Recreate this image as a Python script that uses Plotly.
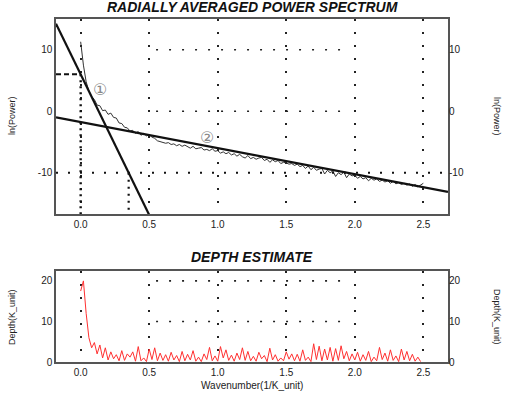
import numpy as np
import plotly.graph_objects as go

# ---------------- data ----------------
x_ticks = [0.0, 0.5, 1.0, 1.5, 2.0, 2.5]
x_tick_text = ["0.0", "0.5", "1.0", "1.5", "2.0", "2.5"]
power_ticks = [10, 0, -10]
power_tick_text = ["10", "0", "-10"]
depth_ticks = [0, 10, 20]

spec_step = 0.02
spec_power = [11.3, 7.5, 4.8, 3.3, 2.4, 1.9, 1.0, 0.9, 0.1, 0.2,
              -0.5, -0.3, -1.0, -1.1, -1.9, -2.0, -2.6, -2.7, -3.2, -3.1,
              -3.6, -3.3, -3.9, -3.6, -4.0, -3.8, -4.2, -4.4, -4.8, -4.9,
              -5.0, -5.2, -5.1, -5.4, -5.3, -5.6, -5.4, -5.7, -5.5, -5.8,
              -6.0, -5.7, -6.1, -6.0, -5.9, -6.3, -6.2, -6.4, -6.1, -6.5,
              -6.4, -6.8, -6.6, -6.9, -6.7, -7.1, -6.9, -7.3, -7.0, -7.4,
              -7.6, -7.2, -7.7, -7.5, -7.8, -7.6, -7.5, -8.0, -7.8, -8.3,
              -7.9, -8.2, -8.0, -8.5, -8.3, -8.4, -8.6, -8.5, -8.8, -8.6,
              -9.0, -8.8, -9.3, -8.9, -9.5, -9.1, -9.6, -9.4, -9.3, -10.2,
              -9.6, -10.0, -9.7, -10.6, -10.0, -10.3, -9.9, -10.8, -10.2, -10.5,
              -10.4, -10.9, -10.6, -11.0, -10.8, -11.3, -10.9, -11.2, -11.0, -11.4,
              -11.2, -11.5, -11.3, -11.7, -11.4, -11.8, -11.6, -11.9, -11.7, -12.0,
              -11.8, -12.2, -11.9, -12.3, -12.0, -11.7]

depth_step = 0.02
depth_vals = [17.5, 20.0, 12.0, 6.0, 3.5, 4.8, 2.0, 4.2, 1.0, 3.5,
              0.5, 2.5, 0.8, 1.8, 0.3, 2.8, 0.4, 2.0, 1.2, 2.5,
              0.2, 3.8, 0.3, 1.0, 0.1, 3.2, 0.6, 3.5, 0.3, 2.2,
              0.4, 1.8, 0.2, 2.4, 0.5, 1.6, 0.1, 2.6, 0.3, 1.9,
              0.5, 2.8, 0.2, 1.2, 0.1, 2.0, 0.6, 3.6, 0.3, 1.5,
              0.2, 3.8, 1.0, 3.0, 0.4, 1.7, 0.2, 2.2, 0.6, 3.5,
              0.4, 2.6, 0.3, 1.4, 0.2, 2.4, 0.8, 1.6, 0.1, 3.4,
              0.5, 1.8, 0.2, 1.0, 0.3, 2.5, 0.7, 2.0, 0.3, 1.9,
              0.2, 3.0, 0.4, 1.2, 0.1, 4.5, 0.6, 3.9, 0.3, 3.2,
              0.5, 3.6, 0.2, 3.3, 0.4, 4.0, 0.8, 2.6, 0.3, 2.0,
              0.5, 2.4, 0.2, 1.8, 0.4, 2.6, 0.1, 1.2, 0.3, 3.6,
              0.6, 2.2, 0.2, 3.0, 0.4, 1.5, 0.1, 3.2, 0.5, 2.6,
              0.3, 1.9, 0.2, 1.2, 0.1]

# fitted straight-line segments (intercept, slope)
fit1 = (6.0, -45.7)
fit2 = (-1.76, -4.23)
fit1_level = -10

x_range = [-0.18, 2.68]
power_range = [-16.7, 15.0]
depth_range = [0, 22.5]

spec_x = np.round(np.arange(len(spec_power)) * spec_step, 3)
depth_x = np.round(np.arange(len(depth_vals)) * depth_step, 3)

# ---------------- figure ----------------
fig = go.Figure()

fx = np.array(x_range)
fig.add_trace(go.Scatter(x=spec_x, y=spec_power, mode="lines",
                         line=dict(color="#333333", width=1),
                         xaxis="x", yaxis="y", showlegend=False))
fig.add_trace(go.Scatter(x=fx, y=fit1[0] + fit1[1] * fx, mode="lines",
                         line=dict(color="#111111", width=2.2),
                         xaxis="x", yaxis="y", showlegend=False))
fig.add_trace(go.Scatter(x=fx, y=fit2[0] + fit2[1] * fx, mode="lines",
                         line=dict(color="#111111", width=2.2),
                         xaxis="x", yaxis="y", showlegend=False))
fig.add_trace(go.Scatter(x=depth_x, y=depth_vals, mode="lines",
                         line=dict(color="#ff3030", width=1),
                         xaxis="x2", yaxis="y2", showlegend=False))
# invisible traces so the right-hand axes render
fig.add_trace(go.Scatter(x=[None], y=[None], xaxis="x", yaxis="y3", showlegend=False))
fig.add_trace(go.Scatter(x=[None], y=[None], xaxis="x2", yaxis="y4", showlegend=False))

top_dom = [0.4315, 1.0]
bot_dom = [0.0, 0.266]
frame = dict(showline=True, linecolor="#555555", linewidth=1.5, mirror=True)
tickfont = dict(family="Liberation Sans, Arial, sans-serif", size=10, color="#222222")
griddots = dict(showgrid=True, gridcolor="#222222", gridwidth=1.6, griddash="2px,11px")

fig.update_layout(
    width=505, height=393,
    margin=dict(l=56, r=57, t=19, b=31, autoexpand=False),
    paper_bgcolor="white", plot_bgcolor="white",
    xaxis=dict(domain=[0, 1], anchor="y", range=x_range, tickvals=x_ticks,
               ticktext=x_tick_text, ticks="", tickfont=tickfont, zeroline=False,
               **frame, **griddots),
    yaxis=dict(domain=top_dom, anchor="x", range=power_range, tickvals=power_ticks,
               ticktext=power_tick_text, ticks="", tickfont=tickfont, showgrid=False,
               zeroline=False, **frame),
    yaxis3=dict(overlaying="y", side="right", anchor="x", range=power_range,
                tickvals=power_ticks, ticktext=power_tick_text, ticks="", tickfont=tickfont,
                showgrid=False, zeroline=False, showline=False),
    xaxis2=dict(domain=[0, 1], anchor="y2", range=x_range, tickvals=x_ticks,
                ticktext=x_tick_text, ticks="", tickfont=tickfont, zeroline=False,
                **frame, **griddots),
    yaxis2=dict(domain=bot_dom, anchor="x2", range=depth_range, tickvals=depth_ticks,
                ticks="", tickfont=tickfont, showgrid=False, zeroline=False, **frame),
    yaxis4=dict(overlaying="y2", side="right", anchor="x2", range=depth_range,
                tickvals=depth_ticks, ticks="", tickfont=tickfont, showgrid=False,
                zeroline=False, showline=False),
)

# partial dotted horizontal guide rows
shapes = []
dotline = dict(color="#222222", width=1.6, dash="2px,11px")
for yv in [10, 0]:
    shapes.append(dict(type="line", xref="x", yref="y", x0=0.55, x1=1.97, y0=yv, y1=yv,
                       line=dotline, layer="below"))
for yv in [20, 10]:
    shapes.append(dict(type="line", xref="x2", yref="y2", x0=0.55, x1=1.97, y0=yv, y1=yv,
                       line=dotline, layer="below"))
# construction lines from fit 1
x_at_level = (fit1_level - fit1[0]) / fit1[1]
shapes.append(dict(type="line", xref="x", yref="y", x0=x_range[0], x1=0, y0=fit1[0], y1=fit1[0],
                   line=dict(color="#111111", width=2, dash="5px,3px")))
shapes.append(dict(type="line", xref="x", yref="y", x0=0, x1=0, y0=fit1[0], y1=power_range[0],
                   line=dict(color="#111111", width=2.4, dash="2px,4px")))
shapes.append(dict(type="line", xref="x", yref="y", x0=x_range[0], x1=x_range[1],
                   y0=fit1_level, y1=fit1_level,
                   line=dict(color="#111111", width=2, dash="2px,10px")))
shapes.append(dict(type="line", xref="x", yref="y", x0=x_at_level, x1=x_at_level,
                   y0=fit1_level, y1=power_range[0],
                   line=dict(color="#111111", width=2.2, dash="2px,5px")))
fig.update_layout(shapes=shapes)

titlefont = dict(family="Liberation Sans, Arial, sans-serif", size=14, color="#111111")
labfont = dict(family="Liberation Sans, Arial, sans-serif", size=9, color="#222222")
# (text, px from left, px from top, angle, font)
ann = [
    ("<b><i>RADIALLY AVERAGED POWER SPECTRUM</i></b>", 252, 7, 0, titlefont),
    ("<b><i>DEPTH ESTIMATE</i></b>", 252, 257, 0, titlefont),
    ("ln(Power)", 12, 116, -90, labfont),
    ("ln(Power)", 497, 116, 90, labfont),
    ("Depth(K_unit)", 12, 317, -90, labfont),
    ("Depth(K_unit)", 497, 317, 90, labfont),
    ("Wavenumber(1/K_unit)", 252, 385, 0,
     dict(family="Liberation Sans, Arial, sans-serif", size=10, color="#222222")),
]
plot_w = 505 - 56 - 57
plot_h = 393 - 19 - 31
annotations = []
for text, px, py, ang, f in ann:
    annotations.append(dict(text=text, xref="paper", yref="paper",
                            x=(px - 56) / plot_w, y=(393 - py - 31) / plot_h,
                            xanchor="center", yanchor="middle", textangle=ang,
                            showarrow=False, font=f))

circ_font = dict(family="DejaVu Sans, sans-serif", size=16, color="#888888")
annotations.append(dict(text="①", x=0.14, y=3.5, xref="x", yref="y", showarrow=False,
                        xanchor="center", yanchor="middle", font=circ_font))
annotations.append(dict(text="②", x=0.92, y=-4.3, xref="x", yref="y", showarrow=False,
                        xanchor="center", yanchor="middle", font=circ_font))
fig.update_layout(annotations=annotations)

fig.write_html("out.html", config={"displayModeBar": False},
               post_script="document.body.style.margin='0';")
